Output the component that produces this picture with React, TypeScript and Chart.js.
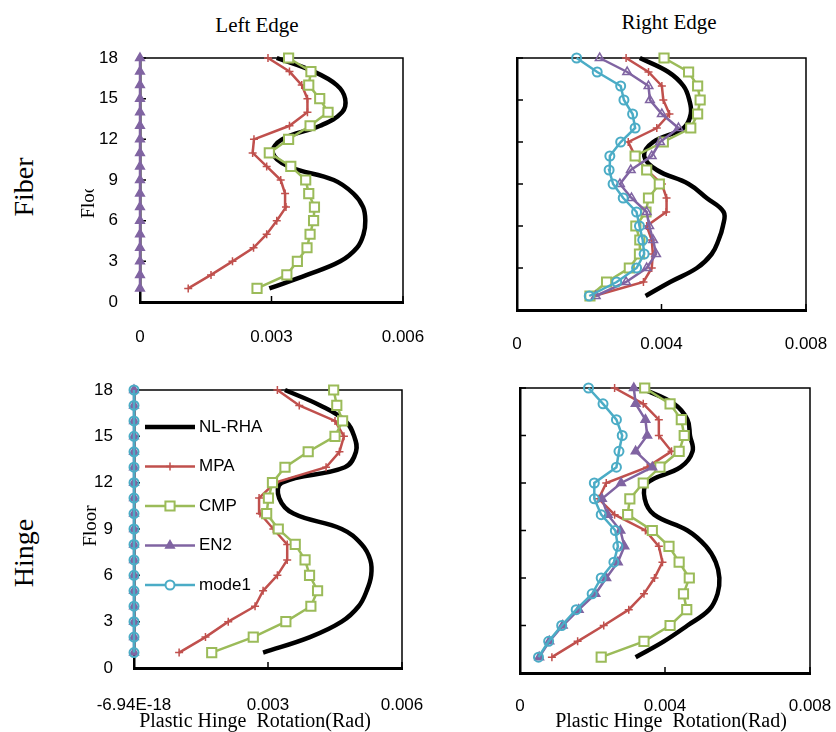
import React, { useEffect, useRef } from 'react';
import { Chart, registerables } from 'chart.js';
import { drawPoint } from 'chart.js/helpers';

Chart.register(...registerables);

// ---------------- DATA ----------------
const floors = [1, 2, 3, 4, 5, 6, 7, 8, 9, 10, 11, 12, 13, 14, 15, 16, 17, 18];
const yTicks = [0, 3, 6, 9, 12, 15, 18];
const yTickLabels = ['0', '3', '6', '9', '12', '15', '18'];

const leftXTicksFiber = [0, 0.003, 0.006];
const leftXTickLabelsFiber = ['0', '0.003', '0.006'];
const leftXTicksHinge = [-6.94e-18, 0.003, 0.006];
const leftXTickLabelsHinge = ['-6.94E-18', '0.003', '0.006'];
const rightXTicks = [0, 0.004, 0.008];
const rightXTickLabels = ['0', '0.004', '0.008'];

const seriesNames = ['NL-RHA', 'MPA', 'CMP', 'EN2', 'mode1'];

// Fiber - Left Edge
const fiberLeftNL = [0.00295, 0.00381, 0.00457, 0.00495, 0.0051, 0.00514, 0.00509, 0.00487, 0.00442, 0.00339, 0.00303, 0.00324, 0.00411, 0.00461, 0.00468, 0.00449, 0.00396, 0.00312];
const fiberLeftMPA = [0.0011, 0.00162, 0.00211, 0.00259, 0.00289, 0.00312, 0.00333, 0.00331, 0.00321, 0.00289, 0.00257, 0.0026, 0.00341, 0.00382, 0.00382, 0.00369, 0.00341, 0.00292];
const fiberLeftCMP = [0.00267, 0.00335, 0.00359, 0.00381, 0.00388, 0.00396, 0.00398, 0.00385, 0.00378, 0.00344, 0.00295, 0.00339, 0.00388, 0.00429, 0.0041, 0.00385, 0.0039, 0.00339];
const fiberLeftEN2 = [0, 0, 0, 0, 0, 0, 0, 0, 0, 0, 0, 0, 0, 0, 0, 0, 0, 0];

// Fiber - Right Edge
const fiberRightNL = [0.00356, 0.00424, 0.00498, 0.00539, 0.00558, 0.0057, 0.00572, 0.00525, 0.00475, 0.00387, 0.00352, 0.00377, 0.00461, 0.00481, 0.00477, 0.00461, 0.00419, 0.0034];
const fiberRightMPA = [0.00213, 0.0035, 0.00373, 0.00376, 0.00373, 0.00359, 0.00413, 0.00414, 0.00401, 0.00359, 0.00327, 0.00308, 0.00387, 0.00422, 0.00405, 0.00401, 0.00364, 0.00302];
const fiberRightCMP = [0.00202, 0.00248, 0.00311, 0.00339, 0.0034, 0.00329, 0.00357, 0.00364, 0.00394, 0.00359, 0.00327, 0.00405, 0.00481, 0.005, 0.00507, 0.005, 0.00475, 0.00407];
const fiberRightEN2 = [0.00218, 0.00302, 0.00359, 0.00385, 0.00377, 0.00366, 0.00359, 0.00317, 0.00285, 0.00315, 0.00373, 0.00396, 0.00447, 0.00401, 0.00368, 0.00364, 0.00305, 0.00229];
const fiberRightMode1 = [0.002, 0.00276, 0.00331, 0.00352, 0.00348, 0.00339, 0.00331, 0.00294, 0.00266, 0.00255, 0.00257, 0.00287, 0.00327, 0.0032, 0.00296, 0.00287, 0.00222, 0.00165];

// Hinge - Left Edge
const hingeLeftNL = [0.00289, 0.00394, 0.00465, 0.00503, 0.00521, 0.00531, 0.00529, 0.0051, 0.00465, 0.00357, 0.00325, 0.00331, 0.00472, 0.00497, 0.00493, 0.00473, 0.00417, 0.00338];
const hingeLeftMPA = [0.00101, 0.0016, 0.00211, 0.00271, 0.00289, 0.00321, 0.00343, 0.00343, 0.00312, 0.00282, 0.0028, 0.00316, 0.0043, 0.0046, 0.0047, 0.0045, 0.0037, 0.00321];
const hingeLeftCMP = [0.00174, 0.00267, 0.0034, 0.00396, 0.00411, 0.00393, 0.00383, 0.00361, 0.00323, 0.00297, 0.00301, 0.0031, 0.00338, 0.0039, 0.0045, 0.00467, 0.00454, 0.00447];
const hingeLeftEN2 = [0, 0, 0, 0, 0, 0, 0, 0, 0, 0, 0, 0, 0, 0, 0, 0, 0, 0];
const hingeLeftMode1 = [0, 0, 0, 0, 0, 0, 0, 0, 0, 0, 0, 0, 0, 0, 0, 0, 0, 0];

// Hinge - Right Edge
const hingeRightNL = [0.00319, 0.00397, 0.00462, 0.00522, 0.00545, 0.0055, 0.0054, 0.00513, 0.00462, 0.0037, 0.00344, 0.00351, 0.00443, 0.00476, 0.00469, 0.00462, 0.00425, 0.00333];
const hingeRightMPA = [0.00088, 0.00159, 0.00231, 0.003, 0.00342, 0.00371, 0.00393, 0.00383, 0.00346, 0.00261, 0.00217, 0.00238, 0.00351, 0.00418, 0.00383, 0.00383, 0.0034, 0.00261];
const hingeRightCMP = [0.00224, 0.00342, 0.00414, 0.0046, 0.00451, 0.00467, 0.00439, 0.00411, 0.00365, 0.00297, 0.00303, 0.0034, 0.00386, 0.00439, 0.00453, 0.00445, 0.00414, 0.00344];
const hingeRightEN2 = [0.00053, 0.00081, 0.00118, 0.00162, 0.00208, 0.00238, 0.0027, 0.00288, 0.00277, 0.00242, 0.00226, 0.00279, 0.00365, 0.00319, 0.00351, 0.00346, 0.00319, 0.00314];
const hingeRightMode1 = [0.00051, 0.00079, 0.00115, 0.00155, 0.00199, 0.00224, 0.00259, 0.0027, 0.00263, 0.00224, 0.00205, 0.00205, 0.00266, 0.00273, 0.00282, 0.00266, 0.00229, 0.00189];

// ---------------- STYLES ----------------
const SANS = '"Liberation Sans", Arial, sans-serif';
const SERIF = '"Liberation Serif", "Times New Roman", serif';
const CLEAR = 'rgba(255,255,255,0)';

function styleFor(name: string, en2Fill: string) {
  switch (name) {
    case 'NL-RHA':
      return { borderColor: '#000000', backgroundColor: '#000000', borderWidth: 4.5, pointRadius: 0, tension: 0.4, order: 5 };
    case 'MPA':
      return { borderColor: '#C0504D', backgroundColor: '#C0504D', borderWidth: 2.5, pointStyle: 'cross', pointRadius: 4, pointBorderWidth: 1.5, pointBorderColor: '#C0504D', pointBackgroundColor: '#C0504D', tension: 0, order: 4 };
    case 'CMP':
      return { borderColor: '#9BBB59', backgroundColor: '#ffffff', borderWidth: 2.5, pointStyle: 'rect', pointRadius: 6.5, pointBorderWidth: 2, pointBorderColor: '#9BBB59', pointBackgroundColor: '#ffffff', tension: 0, order: 3 };
    case 'EN2':
      return { borderColor: '#8064A2', backgroundColor: en2Fill, borderWidth: 2.5, pointStyle: 'triangle', pointRadius: 5, pointBorderWidth: 1.5, pointBorderColor: '#8064A2', pointBackgroundColor: en2Fill, tension: 0, order: 2 };
    default:
      return { borderColor: '#4BACC6', backgroundColor: CLEAR, borderWidth: 2.5, pointStyle: 'circle', pointRadius: 4.5, pointBorderWidth: 2, pointBorderColor: '#4BACC6', pointBackgroundColor: CLEAR, tension: 0, order: 1 };
  }
}

type Panel = {
  canvas: { left: number; top: number; width: number; height: number };
  area: { left: number; top: number; right: number; bottom: number };
  xMin: number;
  xMax: number;
  xTicks: number[];
  xTickLabels: string[];
  xPad: number;
  yLabels: boolean;
  yPad: number;
  series: { name: string; values: number[] }[];
  en2Fill: string;
  legend: boolean;
};

const panels: Panel[] = [
  {
    canvas: { left: 60, top: 40, width: 370, height: 330 },
    area: { left: 140, top: 58, right: 403, bottom: 302 },
    xMin: 0, xMax: 0.006, xTicks: leftXTicksFiber, xTickLabels: leftXTickLabelsFiber, xPad: 25,
    yLabels: true, yPad: 22,
    series: [
      { name: 'NL-RHA', values: fiberLeftNL },
      { name: 'MPA', values: fiberLeftMPA },
      { name: 'CMP', values: fiberLeftCMP },
      { name: 'EN2', values: fiberLeftEN2 },
    ],
    en2Fill: '#8064A2', legend: false,
  },
  {
    canvas: { left: 440, top: 40, width: 396, height: 330 },
    area: { left: 517, top: 58, right: 806, bottom: 310 },
    xMin: 0, xMax: 0.008, xTicks: rightXTicks, xTickLabels: rightXTickLabels, xPad: 24,
    yLabels: false, yPad: 22,
    series: [
      { name: 'NL-RHA', values: fiberRightNL },
      { name: 'MPA', values: fiberRightMPA },
      { name: 'CMP', values: fiberRightCMP },
      { name: 'EN2', values: fiberRightEN2 },
      { name: 'mode1', values: fiberRightMode1 },
    ],
    en2Fill: CLEAR, legend: false,
  },
  {
    canvas: { left: 60, top: 372, width: 370, height: 360 },
    area: { left: 134, top: 390, right: 402, bottom: 668 },
    xMin: -6.94e-18, xMax: 0.006, xTicks: leftXTicksHinge, xTickLabels: leftXTickLabelsHinge, xPad: 27,
    yLabels: true, yPad: 21,
    series: [
      { name: 'NL-RHA', values: hingeLeftNL },
      { name: 'MPA', values: hingeLeftMPA },
      { name: 'CMP', values: hingeLeftCMP },
      { name: 'EN2', values: hingeLeftEN2 },
      { name: 'mode1', values: hingeLeftMode1 },
    ],
    en2Fill: '#8064A2', legend: true,
  },
  {
    canvas: { left: 440, top: 372, width: 396, height: 360 },
    area: { left: 520, top: 388, right: 810, bottom: 673 },
    xMin: 0, xMax: 0.008, xTicks: rightXTicks, xTickLabels: rightXTickLabels, xPad: 23,
    yLabels: false, yPad: 22,
    series: [
      { name: 'NL-RHA', values: hingeRightNL },
      { name: 'MPA', values: hingeRightMPA },
      { name: 'CMP', values: hingeRightCMP },
      { name: 'EN2', values: hingeRightEN2 },
      { name: 'mode1', values: hingeRightMode1 },
    ],
    en2Fill: '#8064A2', legend: false,
  },
];

// frame (top/right) + inward tick marks
const framePlugin = {
  id: 'frameTicks',
  beforeDatasetsDraw(chart: any) {
    const { ctx, chartArea: a, scales } = chart;
    ctx.save();
    ctx.strokeStyle = '#000';
    ctx.lineWidth = 1.5;
    ctx.beginPath();
    ctx.moveTo(a.left, a.top);
    ctx.lineTo(a.right, a.top);
    ctx.lineTo(a.right, a.bottom);
    ctx.stroke();
    ctx.beginPath();
    for (const t of scales.x.ticks) {
      const px = scales.x.getPixelForValue(t.value);
      ctx.moveTo(px, a.bottom);
      ctx.lineTo(px, a.bottom - 6);
    }
    for (const v of yTicks) {
      const py = scales.y.getPixelForValue(v);
      ctx.moveTo(a.left, py);
      ctx.lineTo(a.left + 6, py);
    }
    ctx.stroke();
    ctx.restore();
  },
};

const legendPlugin = {
  id: 'insideLegend',
  afterDatasetsDraw(chart: any) {
    const { ctx, chartArea: a } = chart;
    ctx.save();
    seriesNames.forEach((name, i) => {
      const ds = chart.data.datasets.find((d: any) => d.label === name);
      if (!ds) return;
      const y = a.top + 37 + 39.5 * i;
      const x1 = a.left + 11;
      const x2 = a.left + 61;
      ctx.strokeStyle = ds.borderColor;
      ctx.lineWidth = ds.borderWidth;
      ctx.beginPath();
      ctx.moveTo(x1, y);
      ctx.lineTo(x2, y);
      ctx.stroke();
      if (ds.pointRadius > 0) {
        ctx.fillStyle = name === 'mode1' ? '#ffffff' : ds.pointBackgroundColor;
        ctx.strokeStyle = ds.pointBorderColor;
        ctx.lineWidth = ds.pointBorderWidth;
        drawPoint(ctx, { pointStyle: ds.pointStyle, rotation: 0, radius: ds.pointRadius, borderWidth: ds.pointBorderWidth }, (x1 + x2) / 2, y);
      }
      ctx.fillStyle = '#000';
      ctx.font = `17px ${SANS}`;
      ctx.textAlign = 'left';
      ctx.textBaseline = 'middle';
      ctx.fillText(name, x2 + 4, y);
    });
    ctx.restore();
  },
};

function zeroPad(s: any) {
  s.paddingLeft = 0;
  s.paddingRight = 0;
  s.paddingTop = 0;
  s.paddingBottom = 0;
}

function PanelChart({ p }: { p: Panel }) {
  const ref = useRef<HTMLCanvasElement>(null);
  useEffect(() => {
    if (!ref.current) return;
    const c = p.canvas;
    const a = p.area;
    const yW = a.left - c.left;
    const xH = c.top + c.height - a.bottom;
    const datasets = p.series.map((s) => ({
      label: s.name,
      data: floors.map((f, i) => ({ x: s.values[i], y: f })),
      clip: false as any,
      ...styleFor(s.name, p.en2Fill),
    }));
    const chart = new Chart(ref.current, {
      type: 'line',
      data: { datasets: datasets as any },
      options: {
        responsive: false,
        animation: false,
        devicePixelRatio: 1,
        events: [],
        layout: { padding: { left: 0, top: a.top - c.top, right: c.left + c.width - a.right, bottom: 0 } },
        plugins: { legend: { display: false }, tooltip: { enabled: false } },
        scales: {
          x: {
            type: 'linear',
            position: 'bottom',
            min: p.xMin,
            max: p.xMax,
            afterFit: (s: any) => { s.height = xH; zeroPad(s); },
            afterBuildTicks: (s: any) => { s.ticks = p.xTicks.map((v) => ({ value: v })); },
            grid: { display: false, drawTicks: false },
            border: { display: true, color: '#000', width: 3 },
            ticks: {
              autoSkip: false,
              maxRotation: 0,
              padding: p.xPad,
              color: '#000',
              font: { family: SANS, size: 17 },
              callback: (_v: any, i: number) => p.xTickLabels[i],
            },
          },
          y: {
            type: 'linear',
            min: 0,
            max: 18,
            afterFit: (s: any) => { s.width = yW; zeroPad(s); },
            afterBuildTicks: (s: any) => { s.ticks = yTicks.map((v) => ({ value: v })); },
            grid: { display: false, drawTicks: false },
            border: { display: true, color: '#000', width: 2.5 },
            ticks: {
              display: p.yLabels,
              autoSkip: false,
              padding: p.yPad,
              color: '#000',
              font: { family: SANS, size: 17 },
              callback: (_v: any, i: number) => yTickLabels[i],
            },
          },
        },
      } as any,
      plugins: p.legend ? [framePlugin, legendPlugin] : [framePlugin],
    });
    return () => chart.destroy();
  }, [p]);
  const c = p.canvas;
  return (
    <canvas
      ref={ref}
      width={c.width}
      height={c.height}
      style={{ position: 'absolute', left: c.left, top: c.top, width: c.width, height: c.height }}
    />
  );
}

function Txt({ text, cx, cy, size, rot, family }: { text: string; cx: number; cy: number; size: number; rot?: boolean; family: string }) {
  return (
    <div
      style={{
        position: 'absolute',
        left: cx,
        top: cy,
        transform: `translate(-50%, -50%)${rot ? ' rotate(-90deg)' : ''}`,
        fontFamily: family,
        fontSize: size,
        lineHeight: 1,
        whiteSpace: 'pre',
        color: '#000',
      }}
    >
      {text}
    </div>
  );
}

export default function App() {
  return (
    <div style={{ position: 'absolute', left: 0, top: 0, width: 836, height: 732, background: '#fff', overflow: 'hidden' }}>
      {panels.map((p, i) => (
        <PanelChart key={i} p={p} />
      ))}
      <Txt text="Left Edge" cx={257} cy={25} size={21} family={SERIF} />
      <Txt text="Right Edge" cx={669} cy={22} size={21} family={SERIF} />
      <Txt text="Fiber" cx={24} cy={187} size={28} rot family={SERIF} />
      <Txt text="Hinge" cx={24} cy={553} size={28} rot family={SERIF} />
      <div style={{ position: 'absolute', left: 70, top: 189, width: 30, height: 35, overflow: 'hidden' }}>
        <Txt text="Floor" cx={17} cy={9} size={19} rot family={SERIF} />
      </div>
      <Txt text="Floor" cx={89} cy={526} size={19} rot family={SERIF} />
      <Txt text="Plastic Hinge  Rotation(Rad)" cx={255} cy={720} size={20} family={SERIF} />
      <Txt text="Plastic Hinge  Rotation(Rad)" cx={671} cy={720} size={20} family={SERIF} />
    </div>
  );
}
